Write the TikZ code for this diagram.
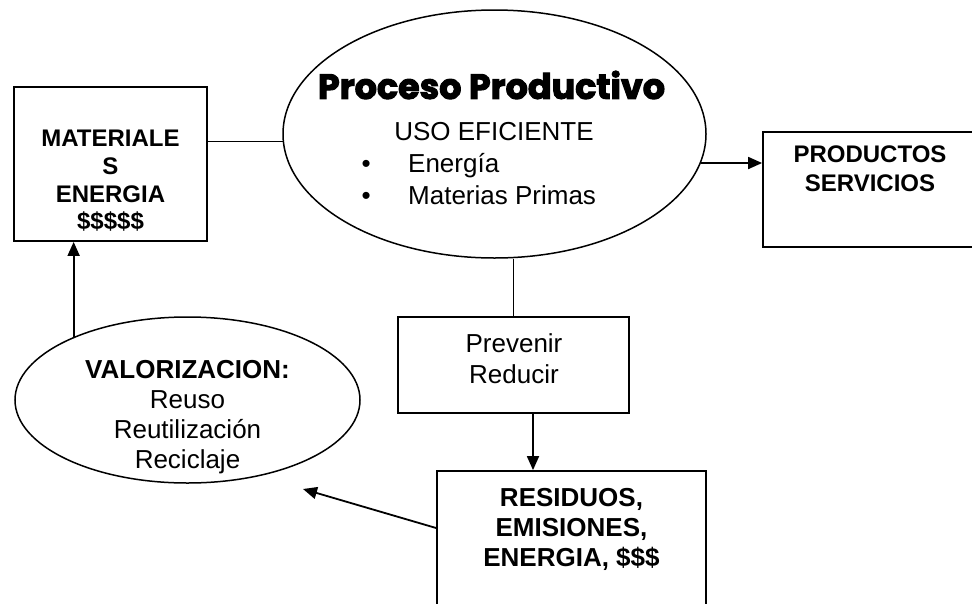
\documentclass[tikz,border=0pt]{standalone}
\usepackage{fontspec}
\setmainfont{Liberation Sans}
\newfontfamily\titlefont{Poppins}[BoldFeatures={FakeBold=3}]
\usetikzlibrary{arrows.meta,calc,shapes.geometric}
\begin{document}
\begin{tikzpicture}[x=1pt,y=-1pt,
 box/.style={draw, line width=1.8pt, rectangle, inner sep=0pt},
 ell/.style={draw, line width=1.5pt, ellipse, inner sep=0pt},
 lbl/.style={align=center, inner sep=0pt, font=\fontsize{26}{30}\selectfont},
 blbl/.style={align=center, inner sep=0pt, font=\fontsize{26}{30}\selectfont\bfseries},
 arr/.style={line width=1.8pt, -{Triangle[length=14pt,width=12pt]}},
 con/.style={line width=1.5pt}]
\useasboundingbox (0,0) rectangle (972,603);

% shapes
\node[box, minimum width=193, minimum height=154] (mat) at (110.5,164) {};
\node[ell, minimum width=423, minimum height=248] (proc) at (494.5,134) {};
\node[box, minimum width=217, minimum height=115] (prod) at (871.5,189.5) {};
\node[box, minimum width=231, minimum height=96] (prev) at (513.5,365) {};
\node[box, minimum width=269, minimum height=149] (res) at (571.5,545.5) {};
\node[ell, minimum width=345, minimum height=166] (val) at (187.5,400) {};

% texts
\node[blbl, font=\fontsize{24}{27.7}\selectfont\bfseries] (matT) at (110.5,181) {MATERIALE\\S\\ENERGIA\\\$\$\$\$\$};
\node[inner sep=0pt] (title) at (491.5,85) {\resizebox{347pt}{!}{\titlefont\bfseries Proceso Productivo}};
\node[lbl, anchor=base] (uso) at (494,140) {USO EFICIENTE};
\node[lbl, anchor=base west] (b1) at (361.5,172) {\makebox[46.5pt][l]{•}Energía};
\node[lbl, anchor=base west] (b2) at (361.5,204) {\makebox[46.5pt][l]{•}Materias Primas};
\node[blbl, font=\fontsize{24}{29}\selectfont\bfseries] (prodT) at (870,169) {PRODUCTOS\\SERVICIOS};
\node[lbl, font=\fontsize{26}{31}\selectfont] (prevT) at (514,358.5) {Prevenir\\Reducir};
\node[blbl] (resT) at (571.5,529.5) {RESIDUOS,\\EMISIONES,\\ENERGIA, \$\$\$};
\node[lbl] (valT) at (187.5,417) {\textbf{VALORIZACION:}\\Reuso\\Reutilización\\Reciclaje};

% connectors
\coordinate (vtip) at (303,489);
\coordinate (rr) at (0,528);
\coordinate (dd) at (533,0);
\draw[con] (proc.182.7) -- (proc.182.7 -| mat.east);
\draw[arr] (proc.-8) -- (proc.-8 -| prod.west);
\draw[con] (prev.north) -- (prev.north |- proc.south);
\draw[arr] (prev.south -| dd) -- (res.north -| dd);
\draw[arr] (res.west |- rr) -- (vtip);
\draw[arr] (val.151.9) -- (val.151.9 |- mat.south);
\end{tikzpicture}
\end{document}
